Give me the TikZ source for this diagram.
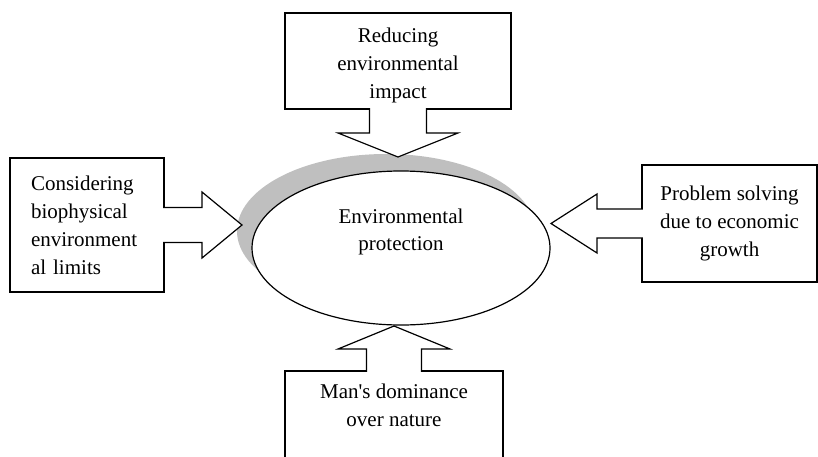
\documentclass[tikz,border=0pt]{standalone}
\usepackage{fontspec}
\setmainfont{Liberation Serif}
\usetikzlibrary{positioning,shapes.geometric,shadows}

\begin{document}
\begin{tikzpicture}[
  x=1pt, y=1pt,
  font=\fontsize{21}{28}\selectfont,
  box/.style={draw, line width=1.2pt, fill=white, align=center, inner sep=4pt, outer sep=0pt},
  hub/.style={ellipse, draw, line width=1.2pt, fill=white, outer sep=0pt,
    minimum width=298pt, minimum height=154pt,
    drop shadow={shadow xshift=-15pt, shadow yshift=17pt, fill=black!25, draw=none, opacity=1}},
  callout/.style={draw, line width=1.2pt, fill=white},
]
  \useasboundingbox (0,0) rectangle (818,-457);
  \clip (0,0) rectangle (818,-457);

  % centre
  \node[hub] (env) at (401,-248) {};
  \node[align=center, font=\fontsize{21}{27}\selectfont] (envtext) at ([yshift=16pt]env.center) {Environmental\\protection};

  % the four boxes
  \node[box, minimum width=226pt, minimum height=96pt, text height=80pt, above=62pt of env, xshift=-3pt] (impact) {Reducing\\environmental\\impact};
  \node[box, align=left, text width=112pt, inner xsep=21pt, minimum height=134pt, left=88pt of env, yshift=23pt] (limits) {Considering\\biophysical\\environment\\al limits};
  \node[box, minimum width=175pt, minimum height=117pt, right=92pt of env, yshift=24.5pt] (growth) {Problem solving\\due to economic\\growth};
  \node[box, minimum width=218pt, inner ysep=12.7pt, text depth=60pt, below=46pt of env, xshift=-7pt] (dominance) {Man\textquotesingle s dominance\\over nature};

  % block arrows
  \draw[callout] ([xshift=-28.5pt, yshift=0.8pt]impact.south) -- ++(0,-24.8) -- ++(-31.5,0) -- ++(60,-24) -- ++(60,24) -- ++(-31.5,0) -- ++(0,24.8);
  \draw[callout] ([xshift=-0.8pt, yshift=17.5pt]limits.east) -- ++(38.8,0) -- ++(0,15.5) -- ++(40,-33) -- ++(-40,-33) -- ++(0,15.5) -- ++(-38.8,0);
  \draw[callout] ([xshift=0.8pt, yshift=14.5pt]growth.west) -- ++(-45.8,0) -- ++(0,15) -- ++(-46,-29.5) -- ++(46,-29.5) -- ++(0,15) -- ++(45.8,0);
  \draw[callout] ([xshift=-27.5pt, yshift=-0.8pt]dominance.north) -- ++(0,22.8) -- ++(-28.5,0) -- ++(56,23) -- ++(56,-23) -- ++(-28.5,0) -- ++(0,-22.8);
\end{tikzpicture}
\end{document}
